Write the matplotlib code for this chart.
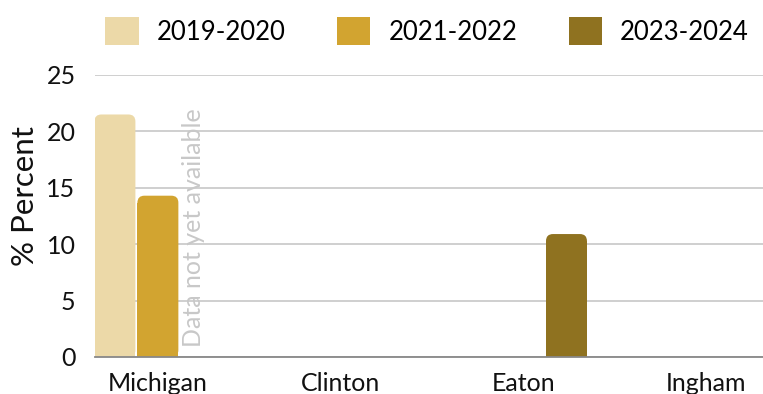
import matplotlib
matplotlib.use("Agg")
import matplotlib.pyplot as plt
from matplotlib.patches import FancyBboxPatch, Patch
import numpy as np

plt.rcParams['font.family'] = ['Lato', 'DejaVu Sans']

categories = ["Michigan", "Clinton", "Eaton", "Ingham"]
periods = ["2019-2020", "2021-2022", "2023-2024"]
values = {
    "2019-2020": [21.5, None, None, None],
    "2021-2022": [14.3, None, None, None],
    "2023-2024": [None, None, 10.9, None],
}
colors = ["#ECD9A8", "#D2A430", "#8F7220"]
y_ticks = [0, 5, 10, 15, 20, 25]
missing_note = "Data not yet available"

W, H = 763, 394
fig = plt.figure(figsize=(W / 100, H / 100), dpi=100)
ax = fig.add_axes([95 / W, 1 - 357 / H, 1 - 95 / W, (357 - 75) / H])

x = np.arange(len(categories))
step = 0.235
width = 0.224
ax.set_xlim(-0.344, 3.31)
ax.set_ylim(0, 25)

# px per data unit, used to keep rounded corners circular
px_x = (W - 95) / (3.31 + 0.344)
px_y = (357 - 75) / 25
aspect = px_x / px_y
r = 7 / px_x

for i, (p, c) in enumerate(zip(periods, colors)):
    vals = [v if v is not None else 0 for v in values[p]]
    bars = ax.bar(x + (i - 1) * step, vals, width=width, color=c, zorder=3)
    for b, v in zip(bars, values[p]):
        b.set_visible(False)
        if v is None:
            continue
        bx, bw, bh = b.get_x(), b.get_width(), b.get_height()
        rr = r * aspect
        # rounded top section
        top = FancyBboxPatch((bx, 0), bw, bh,
                             boxstyle=f"round,pad=0,rounding_size={r}",
                             mutation_aspect=aspect, facecolor=c,
                             edgecolor="none", zorder=3)
        ax.add_patch(top)
        # square-off the bottom corners
        ax.bar(bx + bw / 2, bh - rr, width=bw, color=c, zorder=3)

# note for the period without data
ax.text(x[0] + 0.195, 0.9, missing_note, rotation=90, ha="center", va="bottom",
        color="#C8C8C8", fontsize=18, zorder=4)

ax.set_yticks(y_ticks)
ax.set_xticks(x)
ax.set_xticklabels(categories)
ax.tick_params(axis="both", length=0, labelsize=18, colors="#111111")
ax.tick_params(axis="y", pad=14)
ax.tick_params(axis="x", pad=11)
ax.yaxis.grid(True, color="#CCCCCC", linewidth=1.3, zorder=0)
ax.set_axisbelow(True)
for s in ["top", "right", "left"]:
    ax.spines[s].set_visible(False)
ax.spines["bottom"].set_color("#888888")
ax.spines["bottom"].set_linewidth(1.3)
ax.spines["bottom"].set_zorder(5)

ax.set_ylabel("% Percent", fontsize=22.5, color="#111111")
ax.yaxis.set_label_coords(-56 / (W - 95), (357 - 196) / (357 - 75))

handles = [Patch(facecolor=c, edgecolor="none") for c in colors]
fig.legend(handles, periods, loc="upper center",
           bbox_to_anchor=(427 / W, 1 + 6 / H), ncol=3, frameon=False,
           fontsize=18.5, handlelength=1.3, handleheight=1.3,
           handletextpad=0.7, columnspacing=2.0)

fig.savefig("out.png", dpi=100)
